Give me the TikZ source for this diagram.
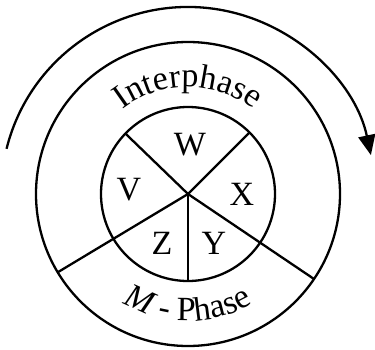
\documentclass[tikz,border=0pt]{standalone}
\usepackage{fontspec}
\setmainfont{Liberation Serif}
\usetikzlibrary{arrows.meta,decorations.text}
\begin{document}
\begin{tikzpicture}[x=1pt,y=1pt, line width=2.3pt,
  ring/.style={draw, circle, inner sep=0pt, outer sep=0pt},
  lbl/.style={font=\fontsize{34}{34}\selectfont, inner sep=0pt}]
\useasboundingbox (-188,-155) rectangle (187,194);
\coordinate (O) at (0,0);
\node[ring, minimum size=304pt] (outer) at (O) {};
\node[ring, minimum size=174pt] (inner) at (O) {};
% dividing lines
\draw (O) -- (inner.45);
\draw (O) -- (inner.136);
\draw (O) -- (inner.270);
\draw (O) -- (outer.211);
\draw (O) -- (outer.326);
% sector labels
\node[lbl] (W) at (2,49) {W};
\node[lbl] (V) at (-59,4) {V};
\node[lbl] (X) at (54,0) {X};
\node[lbl] (Z) at (-26,-49) {Z};
\node[lbl] (Y) at (26,-49) {Y};
% cycle arrow
\coordinate (as) at (166:187pt);
\draw[-{Triangle[length=20pt,width=17pt]}] (as) arc[start angle=166, end angle=12, radius=187pt];
% curved texts
\coordinate (ia) at (135:107pt);
\path[decorate, decoration={text along path, text align=center,
  text={|\fontsize{34}{34}\selectfont|Interphase}}]
  (ia) arc[start angle=135, end angle=45, radius=107pt];
\coordinate (ma) at (230:127pt);
\path[decorate, decoration={text along path, text align=center,
  text={|\fontsize{34}{34}\selectfont\itshape|M|\fontsize{34}{34}\selectfont\upshape| - Phase}}]
  (ma) arc[start angle=230, end angle=310, radius=127pt];
\end{tikzpicture}
\end{document}
